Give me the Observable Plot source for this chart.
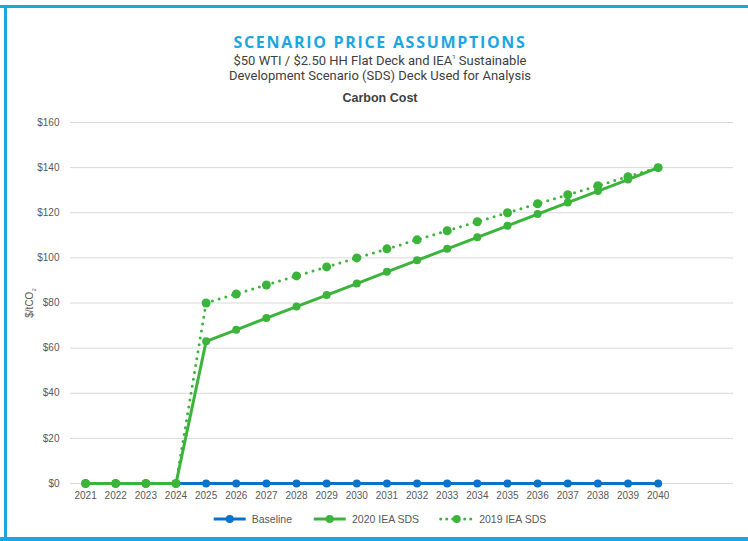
<!DOCTYPE html>
<html>
<head>
<meta charset="utf-8">
<script src="https://cdn.jsdelivr.net/npm/d3@7"></script>
<script src="https://cdn.jsdelivr.net/npm/@observablehq/plot@0.6"></script>
<style>
  html, body { margin: 0; padding: 0; background: #fff; }
  #wrap { position: relative; width: 748px; height: 541px; overflow: hidden; background: #fff; }
  .bt { position: absolute; background: #1ba6e1; }
  .ctr { position: absolute; left: 380px; transform: translateX(-50%); white-space: nowrap; text-align: center; }
  #title { top: 31px; font-family: "Open Sans", sans-serif; font-weight: 700; font-size: 16px; letter-spacing: 1.7px; color: #1ba6e1; }
  #sub { top: 49px; font-family: "Roboto", sans-serif; font-size: 13px; line-height: 15px; color: #404040; }
  #sub sup { font-size: 6px; vertical-align: 6px; }
  #ct { top: 91px; font-family: "Liberation Sans", Arial, sans-serif; font-weight: 700; font-size: 12.5px; color: #404040; }
  #chart { position: absolute; left: 0; top: 110px; }
  #legend { position: absolute; top: 513px; left: 379px; transform: translateX(-50%); display: flex; gap: 20px; font-family: "Liberation Sans", Arial, sans-serif; font-size: 10.5px; color: #595959; white-space: nowrap; }
  #legend .it { display: flex; align-items: center; gap: 4px; }
  #ylab { position: absolute; left: 30px; top: 303px; transform: translate(-50%, -50%) rotate(-90deg); font-family: "Liberation Sans", Arial, sans-serif; font-size: 10px; color: #595959; white-space: nowrap; }
  #ylab sub { font-size: 6px; }
</style>
</head>
<body>
<div id="wrap">
  <div class="bt" style="left:0;top:5px;width:748px;height:3px"></div>
  <div class="bt" style="left:4px;top:5px;width:3px;height:536px"></div>
  <div class="bt" style="left:0;top:537px;width:748px;height:4px"></div>
  <div id="title" class="ctr">SCENARIO PRICE ASSUMPTIONS</div>
  <div id="sub" class="ctr">$50 WTI / $2.50 HH Flat Deck and IEA<sup>1</sup> Sustainable<br>Development Scenario (SDS) Deck Used for Analysis</div>
  <div id="ct" class="ctr">Carbon Cost</div>
  <div id="chart"></div>
  <div id="ylab">$/tCO<sub>2</sub></div>
  <div id="legend"></div>
</div>
<script>
const years = [2021,2022,2023,2024,2025,2026,2027,2028,2029,2030,2031,2032,2033,2034,2035,2036,2037,2038,2039,2040];
const baseline = [0,0,0,0,0,0,0,0,0,0,0,0,0,0,0,0,0,0,0,0];
const sds2020 = [0,0,0,0,63,68.1,73.3,78.4,83.5,88.6,93.8,98.9,104,109.1,114.2,119.4,124.5,129.6,134.7,140];
const sds2019 = [0,0,0,0,80,84,88,92,96,100,104,108,112,116,120,124,128,132,136,140];
const yTicks = [0,20,40,60,80,100,120,140,160];

const colors = { "Baseline": "#0a72c8", "2020 IEA SDS": "#3cb43c", "2019 IEA SDS": "#3cb43c" };
const rows = (name, vals) => years.map((y, i) => ({ year: y, value: vals[i], series: name }));
const dBase = rows("Baseline", baseline);
const d2020 = rows("2020 IEA SDS", sds2020);
const d2019 = rows("2019 IEA SDS", sds2019);

const plot = Plot.plot({
  width: 748,
  height: 403,
  marginLeft: 70,
  marginRight: 15,
  marginTop: 12,
  marginBottom: 30,
  style: { fontFamily: "'Liberation Sans', Arial, sans-serif", fontSize: "10px", color: "#595959", background: "transparent" },
  x: { type: "linear", domain: [2020.5, 2042.5], ticks: years, tickFormat: d => String(d), tickSize: 0, tickPadding: 8, label: null },
  y: { domain: [0, 160], ticks: yTicks, tickFormat: d => "$" + d, tickSize: 0, tickPadding: 11, label: null },
  marks: [
    Plot.ruleY(yTicks, { stroke: "#d9d9d9", strokeWidth: 1 }),
    Plot.axisX({ ticks: years, tickFormat: d => String(d), tickSize: 0, tickPadding: 8, fill: "#595959" }),
    Plot.axisY({ ticks: yTicks, tickFormat: d => "$" + d, tickSize: 0, tickPadding: 11, fill: "#595959" }),
    Plot.line(dBase, { x: "year", y: "value", stroke: colors["Baseline"], strokeWidth: 3 }),
    Plot.dot(dBase, { x: "year", y: "value", fill: colors["Baseline"], r: 4 }),
    Plot.line(d2019, { x: "year", y: "value", stroke: colors["2019 IEA SDS"], strokeWidth: 3, strokeDasharray: "0 7", strokeLinecap: "round" }),
    Plot.dot(d2019, { x: "year", y: "value", fill: colors["2019 IEA SDS"], r: 4.5 }),
    Plot.line(d2020, { x: "year", y: "value", stroke: colors["2020 IEA SDS"], strokeWidth: 3 }),
    Plot.dot(d2020, { x: "year", y: "value", fill: colors["2020 IEA SDS"], r: 4 })
  ]
});
document.getElementById("chart").appendChild(plot);

const legendItems = [
  { name: "Baseline", color: colors["Baseline"], dash: null },
  { name: "2020 IEA SDS", color: colors["2020 IEA SDS"], dash: null },
  { name: "2019 IEA SDS", color: colors["2019 IEA SDS"], dash: "0 6" }
];
const leg = document.getElementById("legend");
for (const it of legendItems) {
  const div = document.createElement("div");
  div.className = "it";
  div.innerHTML = `<svg width="36" height="10"><line x1="2" x2="34" y1="5" y2="5" stroke="${it.color}" stroke-width="3" ${it.dash ? `stroke-dasharray="${it.dash}" stroke-linecap="round"` : ""}/><circle cx="18" cy="5" r="4" fill="${it.color}"/></svg><span>${it.name}</span>`;
  leg.appendChild(div);
}
</script>
</body>
</html>
